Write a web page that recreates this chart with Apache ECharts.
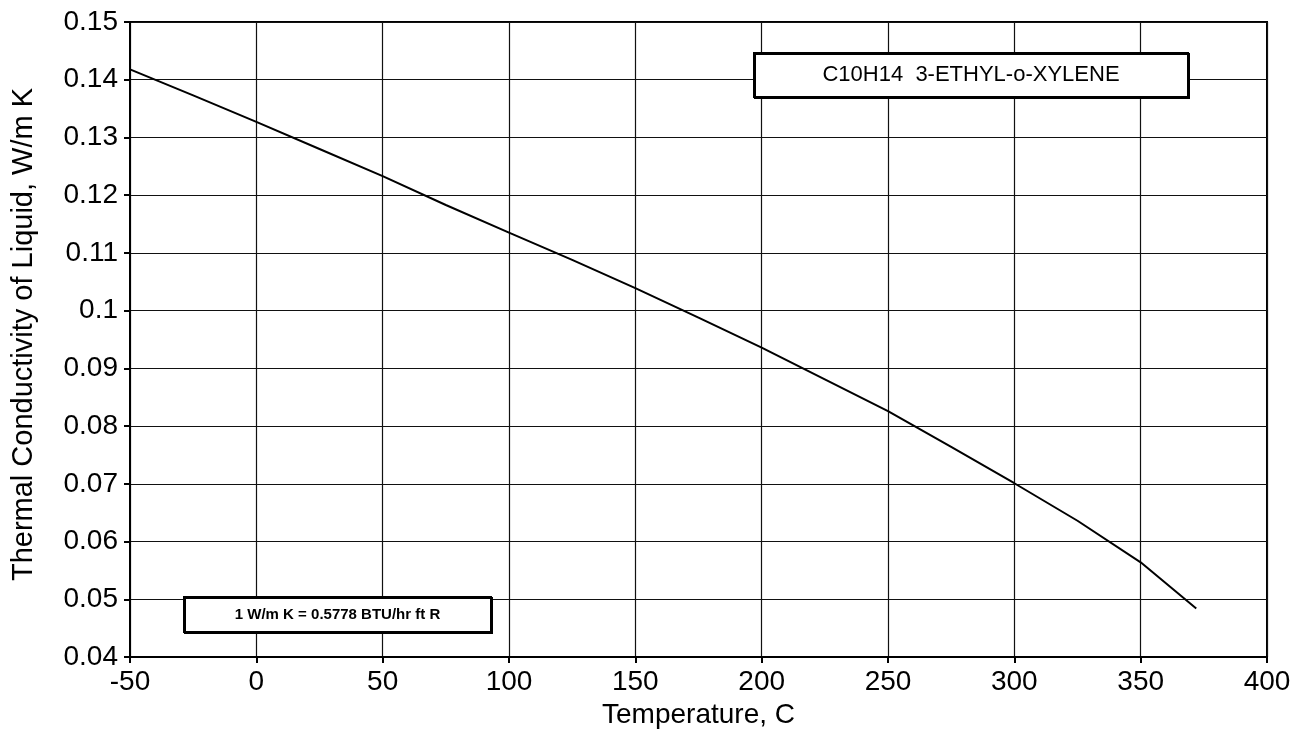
<!DOCTYPE html>
<html>
<head>
<meta charset="utf-8">
<script src="https://cdn.jsdelivr.net/npm/echarts@6/dist/echarts.min.js"></script>
<style>
  html, body { margin: 0; padding: 0; background: #fff; }
  #main { width: 1295px; height: 736px; }
</style>
</head>
<body>
<div id="main"></div>
<script>
// temperature, C
const temps = [-50, -25, 0, 25, 50, 75, 100, 125, 150, 175, 200, 225, 250, 275, 300, 325, 350, 372]
// thermal conductivity, W/m K
const conductivity = [0.1418, 0.1373, 0.1327, 0.1280, 0.1233, 0.1183, 0.1135, 0.1088, 0.1039, 0.0988,
  0.0936, 0.0881, 0.0826, 0.0764, 0.0701, 0.0636, 0.0564, 0.0484]

const titleText = 'C10H14  3-ETHYL-o-XYLENE'
const noteText = '1 W/m K = 0.5778 BTU/hr ft R'

const chart = echarts.init(document.getElementById('main'))
const font = '"Liberation Sans", Arial, sans-serif'

// boxed label drawn over the grid (own layer so grid lines don't show through)
const box = (left, top, w, h, text, textFont) => ({
  type: 'group', left: left, top: top, zlevel: 1, z: 100,
  children: [
    { type: 'rect', zlevel: 1, z: 100, shape: { x: 0, y: 0, width: w, height: h },
      style: { fill: '#fff', stroke: '#000', lineWidth: 2,
        shadowColor: '#000', shadowOffsetX: 1, shadowOffsetY: 1, shadowBlur: 0 } },
    { type: 'text', zlevel: 1, z: 101, x: w / 2, y: h / 2,
      style: { text: text, font: textFont, fill: '#000', align: 'center', verticalAlign: 'middle' } }
  ]
})

chart.setOption({
  animation: false,
  grid: { left: 130, top: 22, right: 28, bottom: 79, show: true, borderColor: '#000', borderWidth: 2 },
  xAxis: {
    type: 'value',
    min: -50, max: 400, interval: 50,
    name: 'Temperature, C',
    nameLocation: 'middle',
    nameGap: 42,
    nameTextStyle: { fontFamily: font, fontSize: 28, color: '#000' },
    axisLine: { show: true, onZero: false, lineStyle: { color: '#000', width: 2 } },
    axisTick: { show: true, length: 6, lineStyle: { color: '#000', width: 2 } },
    axisLabel: { fontFamily: font, fontSize: 28, color: '#000', margin: 11 },
    splitLine: { show: true, lineStyle: { color: '#111', width: 1.2 } }
  },
  yAxis: {
    type: 'value',
    min: 0.04, max: 0.15, interval: 0.01,
    name: 'Thermal Conductivity of Liquid, W/m K',
    nameLocation: 'middle',
    nameGap: 92,
    nameTextStyle: { fontFamily: font, fontSize: 29, color: '#000', padding: [0, 0, 0, 10] },
    axisLine: { show: true, onZero: false, lineStyle: { color: '#000', width: 2 } },
    axisTick: { show: true, length: 6, lineStyle: { color: '#000', width: 2 } },
    axisLabel: {
      fontFamily: font, fontSize: 28, color: '#000', margin: 12,
      formatter: v => String(+v.toFixed(2))
    },
    splitLine: { show: true, lineStyle: { color: '#111', width: 1.2 } }
  },
  series: [{
    type: 'line',
    data: temps.map((t, i) => [t, conductivity[i]]),
    symbol: 'none',
    smooth: false,
    lineStyle: { color: '#000', width: 2 }
  }],
  graphic: [
    box(753, 52, 434, 44, titleText, '22px ' + font),
    box(183, 596, 307, 35, noteText, 'bold 15px ' + font)
  ]
})
</script>
</body>
</html>
